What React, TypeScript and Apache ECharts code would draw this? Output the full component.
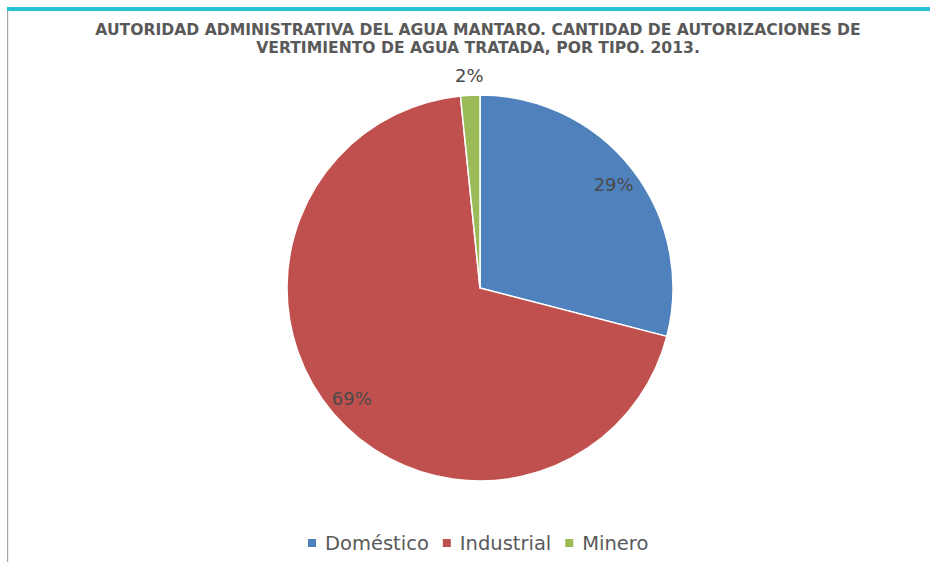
import React, { useEffect, useRef } from "react";
import * as echarts from "echarts";

const categories = ["Doméstico", "Industrial", "Minero"];
const values = [18, 43, 1];
const colors = ["#4F81BD", "#C0504D", "#9BBB59"];
const titleText =
  "AUTORIDAD ADMINISTRATIVA DEL AGUA MANTARO. CANTIDAD DE AUTORIZACIONES DE\nVERTIMIENTO DE AGUA TRATADA, POR TIPO. 2013.";

export default function App() {
  const ref = useRef<HTMLDivElement>(null);
  useEffect(() => {
    if (!ref.current) return;
    const chart = echarts.init(ref.current, undefined, { renderer: "svg" });
    const total = values.reduce((a, b) => a + b, 0);
    const fmt = (p: any) => Math.round((p.value / total) * 100) + "%";
    const baseData = categories.map((name, i) => ({ name, value: values[i], itemStyle: { color: colors[i] } }));
    const labelStyle = { fontFamily: "DejaVu Sans", fontSize: 18, color: "#4a4a4a" };
    chart.setOption({
      animation: false,
      backgroundColor: "#ffffff",
      title: {
        text: titleText,
        left: 473,
        top: 16,
        textAlign: "center",
        textStyle: {
          fontFamily: "DejaVu Sans",
          fontWeight: "bold",
          fontSize: 15.6,
          color: "#595959",
          lineHeight: 18,
        },
      },
      legend: {
        data: categories,
        bottom: 4,
        left: 301,
        itemWidth: 10,
        itemHeight: 10,
        itemGap: 12,
        icon: "rect",
        textStyle: { fontFamily: "DejaVu Sans", fontSize: 19.5, color: "#595959", padding: [0, 0, 0, 3] },
      },
      graphic: [
        { type: "rect", shape: { x: 7, y: 7, width: 923, height: 4 }, style: { fill: "#29C0D6" }, silent: true },
        { type: "rect", shape: { x: 7, y: 11, width: 1.2, height: 551 }, style: { fill: "#A6A6A6" }, silent: true },
      ],
      series: [
        {
          type: "pie",
          center: [480, 288],
          radius: [0, 193],
          startAngle: 90,
          clockwise: true,
          avoidLabelOverlap: false,
          label: { show: false },
          labelLine: { show: false },
          itemStyle: { borderColor: "#ffffff", borderWidth: 1.5 },
          emphasis: { disabled: true },
          data: baseData,
        },
        {
          type: "pie",
          center: [480, 288],
          radius: [0, 332],
          startAngle: 90,
          silent: true,
          avoidLabelOverlap: false,
          itemStyle: { color: "transparent", borderWidth: 0 },
          label: { show: true, position: "inside", formatter: fmt, ...labelStyle },
          labelLine: { show: false },
          emphasis: { disabled: true },
          data: categories.map((name, i) => ({
            name,
            value: values[i],
            itemStyle: { color: "transparent" },
            label: { show: i < 2 },
          })),
        },
        {
          type: "pie",
          center: [480, 288],
          radius: [0, 420],
          startAngle: 90,
          silent: true,
          avoidLabelOverlap: false,
          itemStyle: { color: "transparent", borderWidth: 0 },
          label: { show: true, position: "inside", formatter: fmt, ...labelStyle },
          labelLine: { show: false },
          emphasis: { disabled: true },
          data: categories.map((name, i) => ({
            name,
            value: values[i],
            itemStyle: { color: "transparent" },
            label: { show: i === 2 },
          })),
        },
      ],
    });
    return () => chart.dispose();
  }, []);
  return (
    <div
      ref={ref}
      style={{ position: "fixed", left: 0, top: 0, width: 930, height: 562 }}
    />
  );
}
